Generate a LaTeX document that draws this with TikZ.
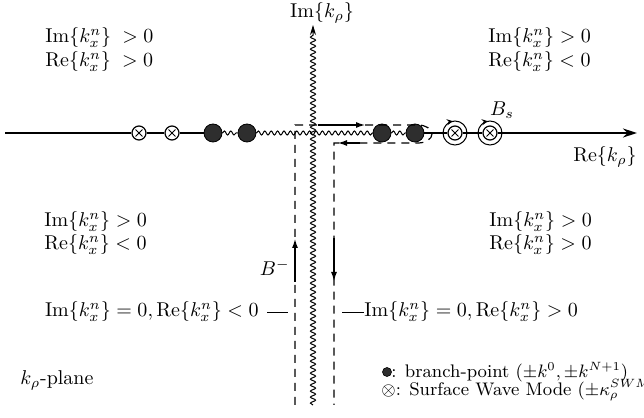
\documentclass[tikz,border=0pt]{standalone}
\usetikzlibrary{arrows.meta,decorations.pathmorphing}
\begin{document}
\begin{tikzpicture}[x=0.5pt,y=0.5pt,
  wavy/.style={decorate, decoration={snake, amplitude=1pt, segment length=3.2pt}, line width=0.5pt},
  vwavy/.style={decorate, decoration={snake, amplitude=1.3pt, segment length=3pt, post length=4pt}, line width=0.5pt},
  axisline/.style={line width=0.9pt},
  cutpath/.style={dash pattern=on 4pt off 3pt, line width=0.6pt},
  flow/.style={line width=1.3pt, -{Latex[length=5pt,width=3pt]}},
  bp/.style={circle, fill=black!82, draw=black, line width=0.4pt, inner sep=0pt, minimum size=9pt},
  swm/.style={circle, draw, fill=white, inner sep=0pt, minimum size=7pt, line width=0.6pt,
    path picture={\draw[line width=0.5pt] (path picture bounding box.center) +(-1.7pt,-1.7pt) -- +(1.7pt,1.7pt)
      (path picture bounding box.center) +(-1.7pt,1.7pt) -- +(1.7pt,-1.7pt);}},
  ring/.style={circle, draw, inner sep=0pt, minimum size=12pt, line width=0.5pt},
  lab/.style={anchor=west, inner sep=0pt},
  leg/.style={anchor=west, inner sep=0pt, font=\fontsize{9.1pt}{11pt}\selectfont},
]
\useasboundingbox (0,0) rectangle (644,418);
% poles and branch points
\node[bp] (d1) at (213,285) {};
\node[bp] (d2) at (247,285) {};
\node[bp] (d3) at (382,285) {};
\node[bp] (d4) at (415,285) {};
\node[swm] (s1) at (139,285) {};
\node[swm] (s2) at (172,285) {};
\node[ring] (r1) at (455,285) {};
\node[swm] (s3) at (455,285) {};
\node[ring] (r2) at (490,285) {};
\node[swm] (s4) at (490,285) {};
\coordinate (hl) at (5,285);
\coordinate (hr) at (637,285);
\coordinate (vb) at (313,13);
\coordinate (vt) at (313,393);
% real axis
\draw[axisline] (hl) -- (s1);
\draw[axisline] (s1) -- (s2);
\draw[axisline] (s2) -- (d1);
\draw[wavy] (d1) -- (d2);
\draw[wavy] (d2) -- (d3);
\draw[wavy] (d3) -- (d4);
\draw[axisline] (d4) -- (s3);
\draw[axisline] (s3) -- (s4);
\draw[axisline, -{Stealth[length=7pt,width=4.5pt]}] (s4) -- (hr);
% imaginary axis (branch cut)
\draw[vwavy, -{Stealth[length=5pt,width=3pt]}] (vb) -- (vt);
% ring arrows
\draw[line width=0.5pt, -{Stealth[length=3pt,width=3pt]}] ([shift={(125:12)}]r1.center) arc[start angle=125, end angle=100, radius=12];
\draw[line width=0.5pt, -{Stealth[length=3pt,width=3pt]}] ([shift={(125:12)}]r2.center) arc[start angle=125, end angle=100, radius=12];
% integration contour
\coordinate (cl) at (295,13);
\coordinate (clt) at (295,293);
\coordinate (cut) at (418,293);
\coordinate (crb) at (334,275);
\coordinate (cr) at (334,13);
\draw[cutpath] (cl) -- (clt) -- (cut) arc[start angle=90, end angle=-90, x radius=14, y radius=9] -- (crb) -- (cr);
% flow arrows
\coordinate (a1s) at (318,293); \coordinate (a1e) at (366,293);
\coordinate (a2s) at (360,275); \coordinate (a2e) at (337,275);
\coordinate (a3s) at (295,136); \coordinate (a3e) at (295,180);
\coordinate (a4s) at (334,180); \coordinate (a4e) at (334,136);
\draw[flow] (a1s) -- (a1e);
\draw[flow] (a2s) -- (a2e);
\draw[flow] (a3s) -- (a3e);
\draw[flow] (a4s) -- (a4e);
% axis labels
\node (imk) at (322,405) {$\mathrm{Im}\{k_\rho\}$};
\node (rek) at (605,261) {$\mathrm{Re}\{k_\rho\}$};
\node (bs) at (502,308) {$B_s$};
\node[anchor=east, inner sep=1pt] (bm) at (292,150) {$B^-$};
% quadrant labels
\node[lab] (q1a) at (45,380) {$\mathrm{Im}\{k_x^n\}\;>0$};
\node[lab] (q1b) at (45,356) {$\mathrm{Re}\{k_x^n\}\;>0$};
\node[lab] (q2a) at (488,380) {$\mathrm{Im}\{k_x^n\}>0$};
\node[lab] (q2b) at (488,356) {$\mathrm{Re}\{k_x^n\}<0$};
\node[lab] (q3a) at (44,196) {$\mathrm{Im}\{k_x^n\}>0$};
\node[lab] (q3b) at (44,173) {$\mathrm{Re}\{k_x^n\}<0$};
\node[lab] (q4a) at (489,196) {$\mathrm{Im}\{k_x^n\}>0$};
\node[lab] (q4b) at (489,173) {$\mathrm{Re}\{k_x^n\}>0$};
% bottom labels with leader dashes
\node[anchor=east, inner sep=0pt] (bl) at (259,106) {$\mathrm{Im}\{k_x^n\}=0,\mathrm{Re}\{k_x^n\}<0$};
\coordinate (bld1) at (267,106); \coordinate (bld2) at (288,106);
\draw[line width=0.4pt] (bld1) -- (bld2);
\node[lab] (br) at (364,106) {$\mathrm{Im}\{k_x^n\}=0,\mathrm{Re}\{k_x^n\}>0$};
\coordinate (brd1) at (342,106);
\draw[line width=0.4pt] (brd1) -- (br.west);
% plane label and legend
\node[lab] (kp) at (20,38) {$k_\rho$-plane};
\node[circle, fill=black!82, draw=black, line width=0.3pt, minimum size=4.5pt, inner sep=0pt] (lgd) at (387,46) {};
\node[leg] (lg1) at (391,46) {: branch-point $(\pm k^0,\pm k^{N+1})$};
\node[leg] (lg2) at (381,28) {$\otimes$: Surface Wave Mode $(\pm\kappa_\rho^{SWM})$};
\end{tikzpicture}
\end{document}
